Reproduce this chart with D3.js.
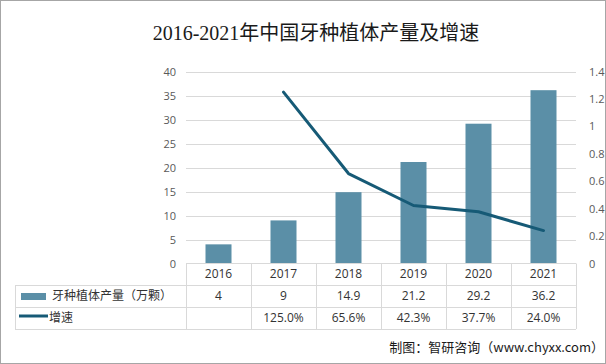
<!DOCTYPE html>
<html>
<head>
<meta charset="utf-8">
<script src="https://cdn.jsdelivr.net/npm/d3@7"></script>
<style>
  body { margin: 0; background: #fff; }
  svg { display: block; }
</style>
</head>
<body>
<div id="chart"></div>
<script>
// data
var years = ["2016", "2017", "2018", "2019", "2020", "2021"];
var output = [4, 9, 14.9, 21.2, 29.2, 36.2];
var growth = [null, 1.25, 0.656, 0.423, 0.377, 0.24];
var growthLabels = ["", "125.0%", "65.6%", "42.3%", "37.7%", "24.0%"];
var leftTicks = [0, 5, 10, 15, 20, 25, 30, 35, 40];
var rightTicks = [0, 0.2, 0.4, 0.6, 0.8, 1, 1.2, 1.4];
var title = "2016-2021年中国牙种植体产量及增速";
var barName = "牙种植体产量（万颗）";
var lineName = "增速";
var credit = "制图：智研咨询（www.chyxx.com）";

var W = 606, H = 364;
var plot = {left: 186, right: 576, top: 72, bottom: 263.5};
var rowY = [263.5, 285, 307, 329];
var barColor = "#5b8fa7", lineColor = "#165a76", gridColor = "#d9d9d9";
var txtFont = "'Open Sans', 'Noto Sans CJK SC', sans-serif";

var svg = d3.select("#chart")
  .append("svg")
    .attr("width", W)
    .attr("height", H);

// outer border
svg.append("rect")
  .attr("x", 0.5).attr("y", 0.5)
  .attr("width", W - 1).attr("height", H - 1)
  .attr("fill", "#fff")
  .attr("stroke", "#a6a6a6");

// title
svg.append("text")
  .attr("x", 316)
  .attr("y", 40)
  .attr("text-anchor", "middle")
  .style("font-family", "'Liberation Serif', 'Noto Sans CJK SC', serif")
  .style("font-size", "20px")
  .attr("fill", "#1a1a1a")
  .text(title);

var x = d3.scaleBand()
  .domain(years)
  .range([plot.left, plot.right])
  .padding(0);

var yL = d3.scaleLinear()
  .domain([0, 40])
  .range([plot.bottom, plot.top]);

var yR = d3.scaleLinear()
  .domain([0, 1.4])
  .range([plot.bottom, plot.top - 0.5]);

// gridlines
svg.append("g")
  .selectAll("line")
  .data(leftTicks.slice(1))
  .enter()
  .append("line")
    .attr("x1", plot.left)
    .attr("x2", plot.right)
    .attr("y1", function(d) { return Math.round(yL(d)) + 0.5; })
    .attr("y2", function(d) { return Math.round(yL(d)) + 0.5; })
    .attr("stroke", gridColor);

// left axis labels
var leftAxis = svg.append("g")
  .attr("transform", "translate(" + (plot.left - 4) + ",0)")
  .call(d3.axisLeft(yL).tickValues(leftTicks).tickSize(0).tickPadding(6));
leftAxis.select(".domain").remove();
leftAxis.selectAll("text")
  .style("font-family", txtFont)
  .style("font-size", "11px")
  .attr("fill", "#595959");

// right axis labels
var rightAxis = svg.append("g")
  .attr("transform", "translate(" + (plot.right + 7) + ",0)")
  .call(d3.axisRight(yR).tickValues(rightTicks).tickSize(0).tickPadding(6)
    .tickFormat(function(d) { return d3.format("~g")(d); }));
rightAxis.select(".domain").remove();
rightAxis.selectAll("text")
  .style("font-family", txtFont)
  .style("font-size", "11px")
  .attr("fill", "#595959");

// bars
var barW = x.bandwidth() * 0.4;
svg.selectAll("mybar")
  .data(years)
  .enter()
  .append("rect")
    .attr("x", function(d) { return x(d) + (x.bandwidth() - barW) / 2; })
    .attr("y", function(d, i) { return yL(output[i]); })
    .attr("width", barW)
    .attr("height", function(d, i) { return plot.bottom - yL(output[i]); })
    .attr("fill", barColor);

// growth line
var pts = years.map(function(d, i) { return {year: d, v: growth[i]}; });
var line = d3.line()
  .defined(function(d) { return d.v != null; })
  .x(function(d) { return x(d.year) + x.bandwidth() / 2; })
  .y(function(d) { return yR(d.v); });

svg.append("path")
  .datum(pts)
  .attr("fill", "none")
  .attr("stroke", lineColor)
  .attr("stroke-width", 3)
  .attr("stroke-linejoin", "round")
  .attr("stroke-linecap", "round")
  .attr("d", line);

// data table
var table = svg.append("g");
table.append("line")
  .attr("x1", plot.left).attr("x2", plot.right)
  .attr("y1", rowY[0]).attr("y2", rowY[0])
  .attr("stroke", gridColor);
rowY.slice(1).forEach(function(yy) {
  table.append("line")
    .attr("x1", 15).attr("x2", plot.right)
    .attr("y1", yy + 0.5).attr("y2", yy + 0.5)
    .attr("stroke", gridColor);
});
table.append("line")
  .attr("x1", 15.5).attr("x2", 15.5)
  .attr("y1", rowY[1]).attr("y2", rowY[3])
  .attr("stroke", gridColor);
var bounds = years.map(function(d) { return x(d); }).concat([plot.right]);
bounds.forEach(function(bx) {
  table.append("line")
    .attr("x1", Math.round(bx) + 0.5).attr("x2", Math.round(bx) + 0.5)
    .attr("y1", rowY[0]).attr("y2", rowY[3])
    .attr("stroke", gridColor);
});

function cellText(txt, cx, cy, anchor) {
  table.append("text")
    .attr("x", cx)
    .attr("y", cy)
    .attr("dy", "0.35em")
    .attr("text-anchor", anchor || "middle")
    .style("font-family", txtFont)
    .style("font-size", "12px")
    .attr("fill", "#333")
    .text(txt);
}

years.forEach(function(d, i) {
  var cx = x(d) + x.bandwidth() / 2;
  cellText(d, cx, (rowY[0] + rowY[1]) / 2);
  cellText(d3.format("~g")(output[i]), cx, (rowY[1] + rowY[2]) / 2);
  cellText(growthLabels[i], cx, (rowY[2] + rowY[3]) / 2);
});

// legend keys in table
table.append("rect")
  .attr("x", 21).attr("y", 293)
  .attr("width", 25).attr("height", 7)
  .attr("fill", barColor);
cellText(barName, 52, (rowY[1] + rowY[2]) / 2, "start");
table.append("line")
  .attr("x1", 19).attr("x2", 48)
  .attr("y1", 316).attr("y2", 316)
  .attr("stroke", lineColor)
  .attr("stroke-width", 3);
cellText(lineName, 49, (rowY[2] + rowY[3]) / 2, "start");

// credit
svg.append("text")
  .attr("x", 604)
  .attr("y", 352)
  .attr("text-anchor", "end")
  .style("font-family", "'Noto Sans CJK SC', sans-serif")
  .style("font-size", "13px")
  .attr("fill", "#1a1a1a")
  .text(credit);
</script>
</body>
</html>
